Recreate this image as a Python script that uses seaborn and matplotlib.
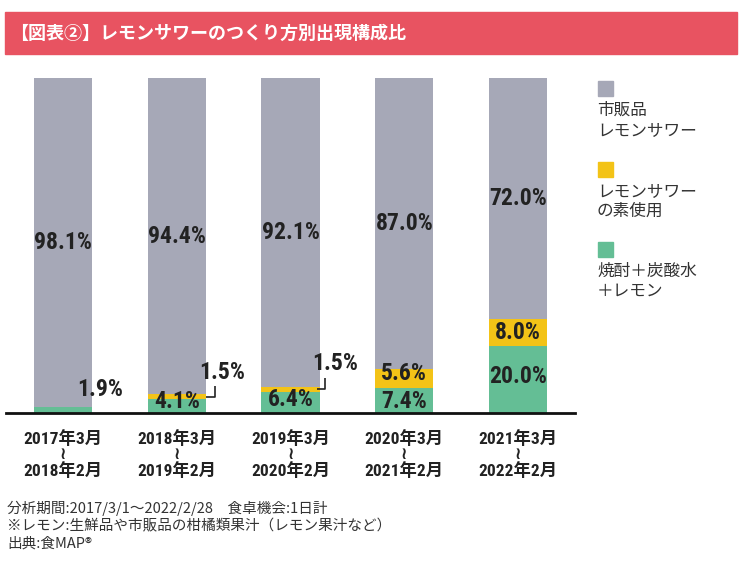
import matplotlib
matplotlib.use("Agg")
import matplotlib.pyplot as plt
import seaborn as sns
import numpy as np
import pandas as pd
from matplotlib.patches import Rectangle

# ---- data ----
periods = ["2017年3月\n≀\n2018年2月", "2018年3月\n≀\n2019年2月", "2019年3月\n≀\n2020年2月",
           "2020年3月\n≀\n2021年2月", "2021年3月\n≀\n2022年2月"]
green = [1.9, 4.1, 6.4, 7.4, 20.0]    # 焼酎＋炭酸水＋レモン
yellow = [0.0, 1.5, 1.5, 5.6, 8.0]    # レモンサワーの素使用
gray = [98.1, 94.4, 92.1, 87.0, 72.0] # 市販品レモンサワー
legend_labels = ["市販品\nレモンサワー", "レモンサワー\nの素使用", "焼酎＋炭酸水\n＋レモン"]
title = "【図表②】レモンサワーのつくり方別出現構成比"
notes = ["分析期間:2017/3/1〜2022/2/28　食卓機会:1日計",
         "※レモン:生鮮品や市販品の柑橘類果汁（レモン果汁など）",
         "出典:食MAP®"]

C_GRAY = "#A6A8B7"
C_YEL = "#F3C317"
C_GRN = "#64BE95"
C_RED = "#E85361"

sns.set_theme(style="white")
plt.rcParams['font.family'] = ['Noto Sans CJK JP', 'DejaVu Sans']
NARROW = ['Roboto Condensed', 'Noto Sans CJK JP', 'DejaVu Sans']

W, H = 742, 570
fig = plt.figure(figsize=(W / 100, H / 100), dpi=100)
ax = fig.add_axes([6 / W, 1 - 413 / H, 569 / W, 335 / H])

g = np.array(green)
y = np.array(yellow)
gr = np.array(gray)
df = pd.DataFrame({"period": periods, "total": g + y + gr, "gy": g + y, "g": g})

bw = 0.51
for col, c in [("total", C_GRAY), ("gy", C_YEL), ("g", C_GRN)]:
    sns.barplot(data=df, x="period", y=col, color=c, width=bw, saturation=1,
                linewidth=0, edgecolor="none", ax=ax)

ax.set_xlim(-0.5, 4.5)
ax.set_ylim(0, 100)
ax.set_xlabel("")
ax.set_ylabel("")
ax.set_yticks([])
for s in ["top", "right", "left"]:
    ax.spines[s].set_visible(False)
ax.spines["bottom"].set_color("#111111")
ax.spines["bottom"].set_linewidth(2)
ax.spines["bottom"].set_zorder(5)
ax.tick_params(axis="x", length=0, pad=12)
ax.set_xticks(range(len(periods)))
ax.set_xticklabels(periods, family=NARROW, fontweight="bold", fontsize=12.5,
                   color="#222222", linespacing=1.0)

lab_kw = dict(ha="center", va="center", fontsize=17, fontweight="bold",
              color="#222222", family=NARROW)
# gray labels centred in the gray segment
for i in range(5):
    ax.text(i, (g[i] + y[i] + 100) / 2, f"{gr[i]:.1f}%", **lab_kw)
# green labels
green_y = [None, 3.4, 3.9, 3.4, 10.8]
for i in range(1, 5):
    ax.text(i, green_y[i], f"{g[i]:.1f}%", **lab_kw)
ax.text(0.325, 6.9, f"{g[0]:.1f}%", **lab_kw)
# yellow labels
ax.text(3, 11.9, f"{y[3]:.1f}%", **lab_kw)
ax.text(4, 23.9, f"{y[4]:.1f}%", **lab_kw)
# callouts for 1.5%
ax.plot([1 + bw / 2, 1.336, 1.336], [4.85, 4.85, 8.1], color="#222222", lw=1.2,
        solid_capstyle="butt", clip_on=False)
ax.text(1.40, 12.2, f"{y[1]:.1f}%", **lab_kw)
ax.plot([2 + bw / 2 - 0.02, 2.30, 2.30], [7.15, 7.15, 10.4], color="#222222", lw=1.2,
        solid_capstyle="butt", clip_on=False)
ax.text(2.39, 14.9, f"{y[2]:.1f}%", **lab_kw)

# ---- title bar ----
fig.patches.append(Rectangle((5 / W, 1 - 54 / H), 732 / W, 42 / H,
                             transform=fig.transFigure, color=C_RED, zorder=0))
fig.text(10 / W, 1 - 33 / H, title, color="white", fontsize=13, fontweight="bold",
         ha="left", va="center")

# ---- legend ----
leg_cols = [C_GRAY, C_YEL, C_GRN]
sq_top = [81, 162, 242]
for col, top, lab in zip(leg_cols, sq_top, legend_labels):
    fig.patches.append(Rectangle((598 / W, 1 - (top + 15) / H), 15 / W, 15 / H,
                                 transform=fig.transFigure, color=col))
    fig.text(597 / W, 1 - (top + 21) / H, lab, fontsize=12, color="#333333",
             ha="left", va="top", linespacing=1.2)

# ---- notes ----
for k, t in enumerate(notes):
    fig.text(7 / W, 1 - (508 + 18 * k) / H, t, fontsize=10.5, color="#333333",
             ha="left", va="center")

fig.savefig("out.png", dpi=100)
